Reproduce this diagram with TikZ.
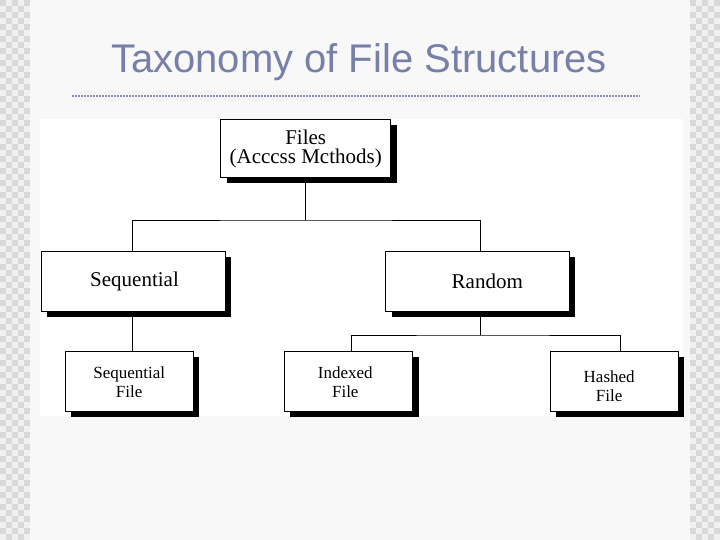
\documentclass[tikz,border=0pt]{standalone}
\usepackage{fontspec}
\setmainfont{Liberation Serif}
\newfontfamily\titlefont{Liberation Sans}
\usetikzlibrary{calc,shadows}
\definecolor{pagebg}{HTML}{F8F8F8}
\definecolor{chkdark}{HTML}{D9D9D9}
\definecolor{chklight}{HTML}{F0F0F0}
\definecolor{titlecol}{HTML}{7880A8}
\definecolor{rulecol}{HTML}{8890B4}
\tikzset{
  fbox/.style={rectangle, draw=black, line width=0.9pt, fill=white, inner sep=0pt,
    align=center, text=black,
    drop shadow={shadow xshift=6pt, shadow yshift=-5pt, fill=black, opacity=1}},
  bigbox/.style={fbox, font=\fontsize{21}{19}\selectfont, minimum height=58pt},
  smallbox/.style={fbox, font=\fontsize{17}{19}\selectfont, minimum width=128.5pt, minimum height=60pt},
  conn/.style={draw=black, line width=0.9pt}
}
\begin{document}
\begin{tikzpicture}[x=1pt,y=-1pt]
\useasboundingbox (0,0) rectangle (720,540);
\fill[pagebg] (0,0) rectangle (720,540);
% checkered side strips
\fill[chklight] (0,0) rectangle (30,540);
\fill[chklight] (690,0) rectangle (720,540);
\foreach \i in {0,...,4}{
  \foreach \j in {0,...,89}{
    \pgfmathtruncatemacro\p{mod(\i+\j,2)}
    \ifnum\p=0
      \fill[chkdark] (\i*6,\j*6) rectangle ++(6,6);
      \fill[chkdark] (690+\i*6,\j*6) rectangle ++(6,6);
    \fi
  }
}
% title
\node[text=titlecol, font=\titlefont\fontsize{40}{48}\selectfont] (title) at (359,62) {Taxonomy of File Structures};
\draw[rulecol, line width=2pt, dash pattern=on 2pt off 1pt] (72,96) -- (640,96);
% white picture area
\fill[white] (40,119) rectangle (683,416);
% boxes
\node[bigbox, minimum width=170pt] (files) at (305.7,148.9) {Files\\(Acccss Mcthods)};
\node[bigbox, minimum width=184pt, minimum height=60pt] (seq) at (133,281.7) {\hspace*{3pt}\raisebox{-2pt}{Sequential}};
\node[bigbox, minimum width=183.3pt, minimum height=60pt] (rand) at (477.3,281.7) {\hspace*{20pt}\raisebox{-2pt}{Random}};
\node[smallbox] (sf) at (129.2,381.7) {Sequential\\File};
\node[smallbox] (idx) at (348.3,381.7) {Indexed\hspace*{6pt}\\File\hspace*{6pt}};
\node[smallbox] (hash) at (614.2,381.7) {\rule{0pt}{20pt}Hashed\hspace*{10pt}\\File\hspace*{10pt}};
% connectors
\coordinate (j1) at (306,220);
\coordinate (j2) at (480,335);
\coordinate (s1) at ($(seq.south)+(-1,0)$);
\draw[conn] (files.south) -- (files.south |- j1);
\draw[conn] ($(seq.north)+(-1,0)$) |- (j1) -| ($(rand.north)+(2.7,0)$);
\draw[conn] ($(rand.south)+(2.7,0)$) -- (j2);
\draw[conn] ($(idx.north)+(3.4,0)$) |- (j2) -| ($(hash.north)+(5.8,0)$);
\draw[conn] (s1) -- (s1 |- sf.north);
\end{tikzpicture}
\end{document}
